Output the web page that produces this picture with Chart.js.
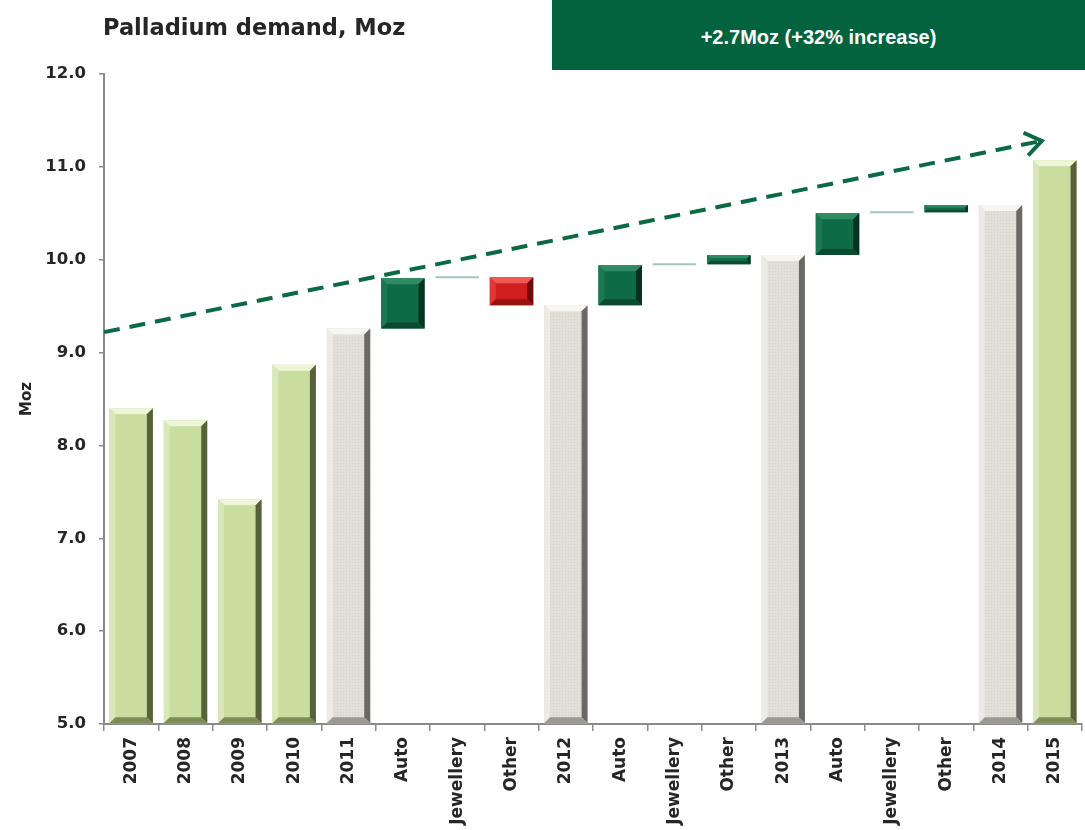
<!DOCTYPE html>
<html>
<head>
<meta charset="utf-8">
<script src="https://cdn.jsdelivr.net/npm/chart.js@4.4.1/dist/chart.umd.min.js"></script>
<style>
  html, body { margin: 0; padding: 0; background: #fff; }
  #wrap { position: relative; width: 1085px; height: 830px; }
  #title {
    position: absolute; left: 103px; top: 15px;
    font: bold 22.5px 'DejaVu Sans', sans-serif; line-height: 24px; color: #262626;
  }
  #callout {
    position: absolute; left: 552px; top: 0; width: 533px; height: 70px;
    background: #03633f; color: #fff; text-align: center;
    font: bold 20px 'Liberation Sans', Arial, sans-serif; line-height: 74px;
  }
  #wrap canvas { position: absolute; left: 0; top: 0; }
</style>
</head>
<body>
<div id="wrap">
  <canvas id="demandChart" width="1085" height="830"></canvas>
  <div id="title">Palladium demand, Moz</div>
  <div id="callout">+2.7Moz (+32% increase)</div>
</div>
<script>
// ── Data (Moz) ──────────────────────────────────────────────────────────────
const categories = ['2007', '2008', '2009', '2010', '2011', 'Auto', 'Jewellery', 'Other',
                    '2012', 'Auto', 'Jewellery', 'Other', '2013', 'Auto', 'Jewellery', 'Other',
                    '2014', '2015'];

// annual totals (null where the column is a waterfall step)
const yearTotals = [8.40, 8.27, 7.42, 8.87, 9.26, null, null, null,
                    9.51, null, null, null, 10.05, null, null, null,
                    10.59, 11.07];

// waterfall steps: start and end level of each change
const changeStart = [null, null, null, null, null, 9.26, 9.80, 9.81,
                     null, 9.51, 9.94, 9.95, null, 10.05, 10.50, 10.51,
                     null, null];
const changeEnd   = [null, null, null, null, null, 9.80, 9.81, 9.51,
                     null, 9.94, 9.95, 10.05, null, 10.50, 10.51, 10.59,
                     null, null];

// years that bound the waterfall (drawn grey)
const waterfallYears = ['2011', '2012', '2013', '2014'];

const yMin = 5, yMax = 12;
const yTicks = [5, 6, 7, 8, 9, 10, 11, 12];

// trend arrow, in (category index, Moz)
const trendFrom = [-0.5, 9.22];
const trendTo   = [16.76, 11.28];

// ── Colours ─────────────────────────────────────────────────────────────────
const AXIS = '#8a8a8a';
const ARROW = '#0b6a43';

const PALETTE = {
  green: { face: '#c9dd9f', top: '#eef5d8', left: '#d9e8b8', right: '#55623a', bottom: '#7d8c58' },
  grey:  { face: '#e1dfd8', top: '#f7f6f1', left: '#ecebe5', right: '#6a6a64', bottom: '#9b9992' },
  up:    { face: '#0f6a46', top: '#2f8b63', left: '#1c7853', right: '#03321f', bottom: '#0a4a30' },
  down:  { face: '#d11f1f', top: '#ef5a55', left: '#e13636', right: '#6e0b0b', bottom: '#981212' },
  flat:  { face: '#a3c9b4' },
};

function kindOf(i) {
  if (yearTotals[i] != null) return waterfallYears.includes(categories[i]) ? 'grey' : 'green';
  const diff = changeEnd[i] - changeStart[i];
  if (Math.abs(diff) < 0.02) return 'flat';
  return diff > 0 ? 'up' : 'down';
}

// speckled fill for the grey bars
function speckle(base, dot) {
  const c = document.createElement('canvas');
  c.width = 3; c.height = 3;
  const g = c.getContext('2d');
  g.fillStyle = base; g.fillRect(0, 0, 3, 3);
  g.fillStyle = dot; g.fillRect(1, 1, 1, 1);
  return g.createPattern(c, 'repeat');
}

const kinds = categories.map((c, i) => kindOf(i));
const barValues = categories.map((c, i) =>
  yearTotals[i] != null ? yearTotals[i] : [changeStart[i], changeEnd[i]]);

const ctx = document.getElementById('demandChart').getContext('2d');
const greyFill = speckle(PALETTE.grey.face, '#d2d0c8');
const barColors = kinds.map(k => k === 'grey' ? greyFill : PALETTE[k].face);

// ── Bevel look on each bar ─────────────────────────────────────────────────
function poly(c, color, pts) {
  c.fillStyle = color;
  c.beginPath();
  c.moveTo(pts[0][0], pts[0][1]);
  for (let k = 1; k < pts.length; k++) c.lineTo(pts[k][0], pts[k][1]);
  c.closePath();
  c.fill();
}

const bevelPlugin = {
  id: 'bevel',
  afterDatasetsDraw(chart) {
    const c = chart.ctx;
    chart.getDatasetMeta(0).data.forEach((bar, i) => {
      const pal = PALETTE[kinds[i]];
      if (!pal.top) return;
      const { x, y, base, width } = bar.getProps(['x', 'y', 'base', 'width'], true);
      const x0 = x - width / 2, x1 = x + width / 2;
      const y0 = Math.min(y, base), y1 = Math.max(y, base);
      const b = Math.min(6, (y1 - y0) / 3, width / 6);
      c.save();
      poly(c, pal.top,    [[x0, y0], [x1, y0], [x1 - b, y0 + b], [x0 + b, y0 + b]]);
      poly(c, pal.left,   [[x0, y0], [x0 + b, y0 + b], [x0 + b, y1 - b], [x0, y1]]);
      poly(c, pal.right,  [[x1, y0], [x1, y1], [x1 - b, y1 - b], [x1 - b, y0 + b]]);
      poly(c, pal.bottom, [[x0, y1], [x0 + b, y1 - b], [x1 - b, y1 - b], [x1, y1]]);
      c.restore();
    });
  },
};

// ── Dashed trend arrow ─────────────────────────────────────────────────────
const trendPlugin = {
  id: 'trend',
  afterDatasetsDraw(chart) {
    const { x: xs, y: ys } = chart.scales;
    const c = chart.ctx;
    const ax = xs.getPixelForValue(trendFrom[0]), ay = ys.getPixelForValue(trendFrom[1]);
    const bx = xs.getPixelForValue(trendTo[0]),   by = ys.getPixelForValue(trendTo[1]);
    const ang = Math.atan2(by - ay, bx - ax);
    c.save();
    c.strokeStyle = ARROW;
    c.lineWidth = 4;
    c.setLineDash([16, 10]);
    c.beginPath();
    c.moveTo(ax, ay);
    c.lineTo(bx - 3 * Math.cos(ang), by - 3 * Math.sin(ang));
    c.stroke();
    // open arrow head
    c.setLineDash([]);
    c.lineJoin = 'miter';
    const len = 20, spread = 0.62;
    c.beginPath();
    c.moveTo(bx - len * Math.cos(ang - spread), by - len * Math.sin(ang - spread));
    c.lineTo(bx, by);
    c.lineTo(bx - len * Math.cos(ang + spread), by - len * Math.sin(ang + spread));
    c.stroke();
    c.restore();
  },
};

Chart.defaults.font.family = "'DejaVu Sans', sans-serif";
Chart.defaults.color = '#262626';

new Chart(ctx, {
  type: 'bar',
  data: {
    labels: categories,
    datasets: [{
      label: 'Palladium demand',
      data: barValues,
      base: yMin,
      backgroundColor: barColors,
      borderWidth: 0,
      minBarLength: 2,
      barPercentage: 0.8,
      categoryPercentage: 1.0,
    }],
  },
  options: {
    responsive: false,
    animation: false,
    layout: { padding: { left: 0, right: 3, top: 74, bottom: 0 } },
    plugins: {
      legend: { display: false },
      tooltip: { enabled: false },
    },
    scales: {
      x: {
        afterFit: s => { s.height = 106; },
        grid: { drawOnChartArea: false, drawTicks: true, tickLength: 7, color: AXIS, lineWidth: 1.5 },
        border: { color: AXIS, width: 2 },
        ticks: {
          autoSkip: false, maxRotation: 90, minRotation: 90, padding: 6,
          font: { size: 17, weight: 'bold' }, color: '#262626',
        },
      },
      y: {
        min: yMin,
        max: yMax,
        afterFit: s => { s.width = 104; },
        afterBuildTicks: s => { s.ticks = yTicks.map(v => ({ value: v })); },
        grid: { drawOnChartArea: false, drawTicks: true, tickLength: 5, color: AXIS, lineWidth: 1.5 },
        border: { color: AXIS, width: 2 },
        title: {
          display: true, text: 'Moz', color: '#262626',
          font: { size: 15, weight: 'bold' }, padding: { top: 18, bottom: 0 },
        },
        ticks: {
          padding: 13, color: '#262626',
          font: { size: 16.5, weight: 'bold' },
          callback: v => Number(v).toFixed(1),
        },
      },
    },
  },
  plugins: [bevelPlugin, trendPlugin],
});
</script>
</body>
</html>
